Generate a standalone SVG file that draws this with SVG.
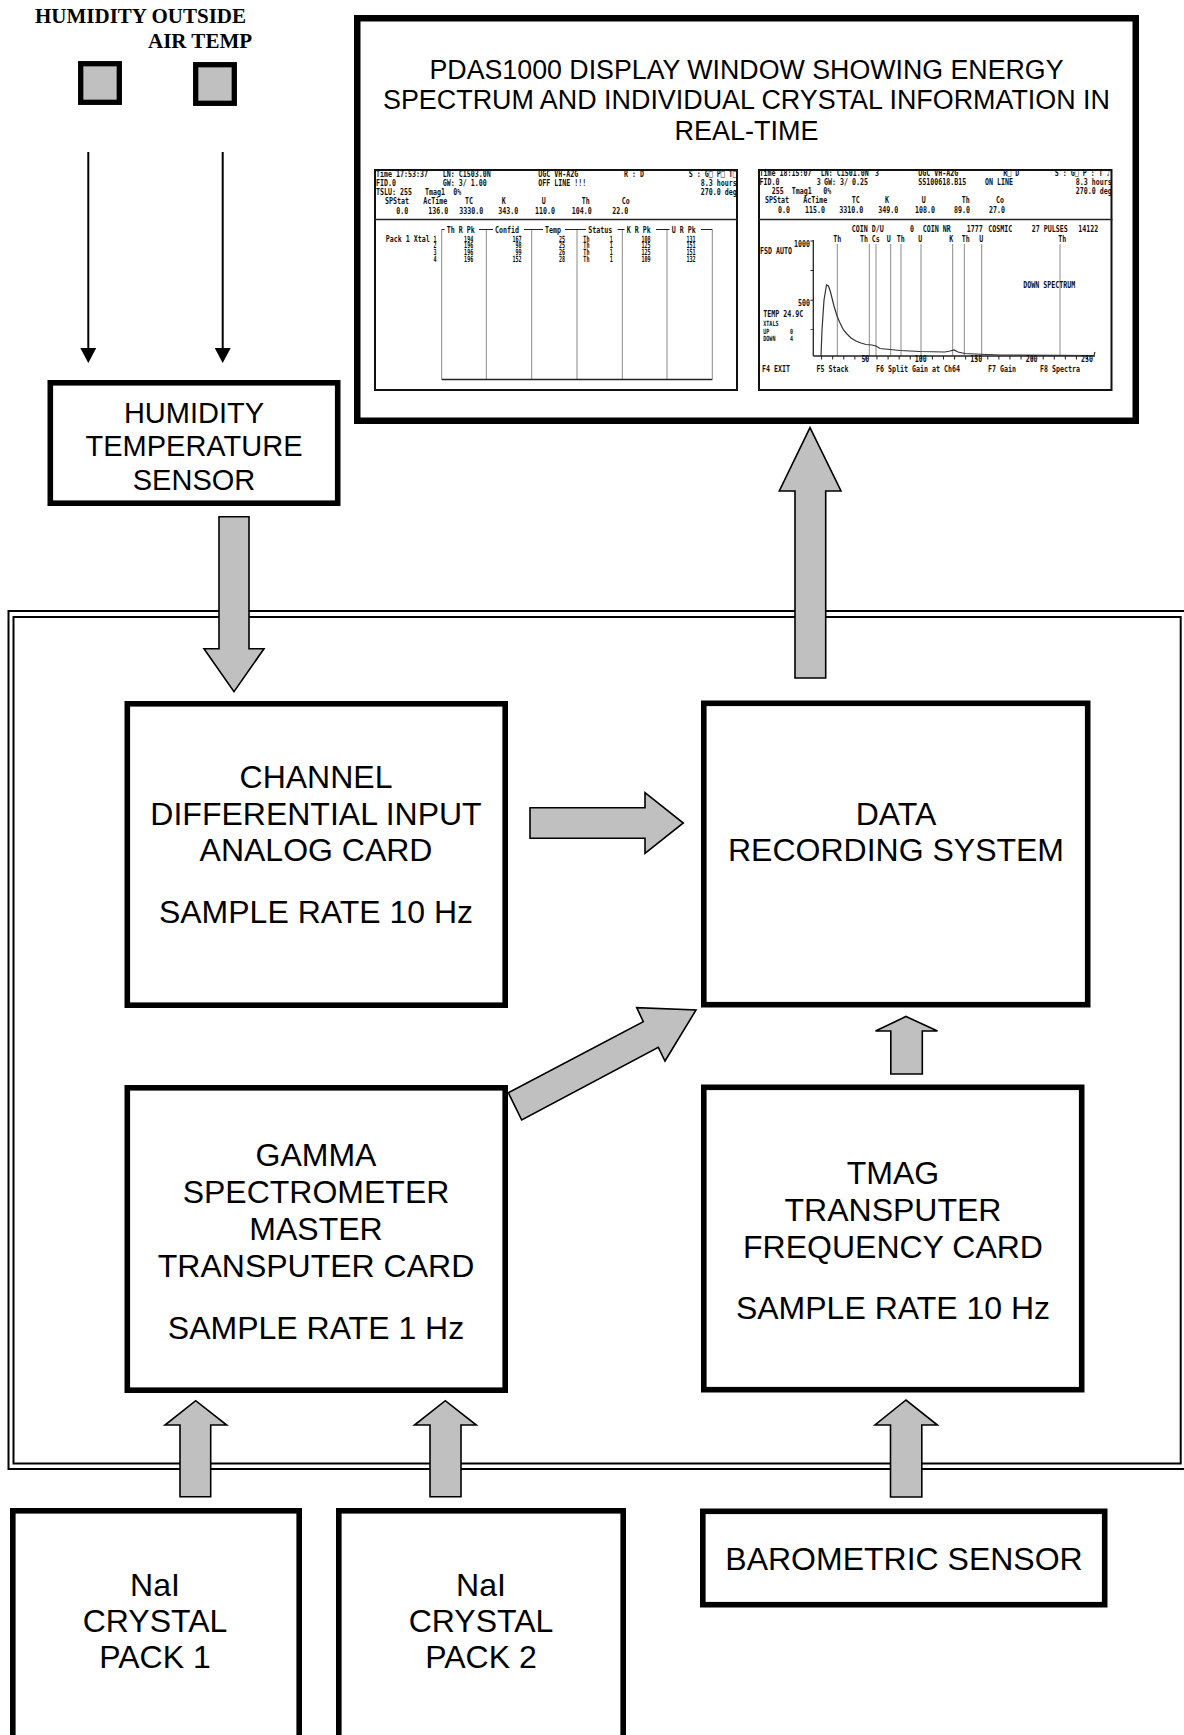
<svg xmlns="http://www.w3.org/2000/svg" width="1184" height="1735" viewBox="0 0 1184 1735">
<defs>
<style>
.box{fill:#fff;stroke:#000;stroke-width:5.6}
.lbl{font-family:"Liberation Sans",Arial,sans-serif;font-size:32px;fill:#000;text-anchor:middle}
.ttl{font-family:"Liberation Sans",Arial,sans-serif;font-size:27px;fill:#000;text-anchor:middle}
.hum{font-family:"Liberation Sans",Arial,sans-serif;font-size:29px;fill:#000;text-anchor:middle}
.ser{font-family:"Liberation Serif","Times New Roman",serif;font-size:21px;font-weight:bold;fill:#000}
.sq{fill:#c0c0c0;stroke:#000;stroke-width:5.3}
.fat{fill:#c0c0c0;stroke:#000;stroke-width:1.6}
.thin{stroke:#000;stroke-width:2;fill:none}
.frame{fill:none;stroke:#000;stroke-width:2}
.scr{fill:#fff;stroke:#111;stroke-width:2}
.m{font-family:"DejaVu Sans Mono","Liberation Mono",monospace;font-weight:bold;font-size:9.5px;fill:#111}
.s{font-size:7.2px}
.d{font-family:"DejaVu Sans Mono","Liberation Mono",monospace;font-weight:bold;font-size:8.5px;fill:#111;text-anchor:end}
.e{text-anchor:end}
.c{text-anchor:middle}
.st{text-anchor:start}
.gl{stroke:#8a8a8a;stroke-width:1;fill:none}
.dk{stroke:#222;fill:none}
</style>
<marker id="ah" markerUnits="userSpaceOnUse" markerWidth="15" markerHeight="16" viewBox="0 0 15 16" refX="2" refY="8" orient="auto">
<path d="M0,0 L15,8 L0,16 Z" fill="#000"/>
</marker>
</defs>
<rect width="1184" height="1735" fill="#fff"/>

<g id="system-frame">
<rect class="frame" x="8.5" y="611" width="1177.5" height="858"/>
<rect class="frame" x="13.5" y="617" width="1167.2" height="846.5"/>
</g>

<g id="outside-sensors">
<text class="ser" x="35" y="23">HUMIDITY OUTSIDE</text>
<text class="ser" x="148" y="48">AIR TEMP</text>
<rect class="sq" x="80.7" y="63.7" width="38.6" height="38.6"/>
<rect class="sq" x="195.7" y="64.7" width="38.6" height="38.6"/>
</g>

<g id="humidity-sensor">
<rect class="box" x="50.3" y="382.8" width="287.4" height="120.4"/>
<text class="hum" x="194" y="423">HUMIDITY</text>
<text class="hum" x="194" y="456">TEMPERATURE</text>
<text class="hum" x="194" y="490">SENSOR</text>
</g>

<g id="display-window">
<rect x="357.25" y="18.25" width="778.5" height="402.5" fill="#fff" stroke="#000" stroke-width="6.5"/>
<text class="ttl" x="746.5" y="78.5" textLength="634" lengthAdjust="spacingAndGlyphs">PDAS1000 DISPLAY WINDOW SHOWING ENERGY</text>
<text class="ttl" x="746.5" y="109" textLength="727" lengthAdjust="spacingAndGlyphs">SPECTRUM AND INDIVIDUAL CRYSTAL INFORMATION IN</text>
<text class="ttl" x="746.5" y="139.5">REAL-TIME</text>

<g id="screen-left">
<rect class="scr" x="375" y="170" width="362" height="220"/>
<line class="dk" x1="374" y1="219.5" x2="738" y2="219.5" stroke-width="1.6"/>
<g class="gl">
<line x1="441.7" y1="229.5" x2="441.7" y2="379.5"/>
<line x1="486.3" y1="229.5" x2="486.3" y2="379.5"/>
<line x1="531.7" y1="229.5" x2="531.7" y2="379.5"/>
<line x1="577" y1="229.5" x2="577" y2="379.5"/>
<line x1="622.3" y1="229.5" x2="622.3" y2="379.5"/>
<line x1="667" y1="229.5" x2="667" y2="379.5"/>
<line x1="712.3" y1="229.5" x2="712.3" y2="379.5"/>
</g>
<line class="dk" x1="441.7" y1="379.5" x2="712.3" y2="379.5" stroke-width="1.6"/>
<path class="dk" stroke-width="1" d="M441.7,229.5H444.5M479,229.5H493M524,229.5H543M565,229.5H586M617.5,229.5H624.5M656,229.5H669.5M701,229.5H712.3"/>
<g class="m" transform="translate(375 0) scale(0.7 1)" xml:space="preserve">
<text x="1.4" y="176.7">Time 17:53:37</text>
<text x="96.7" y="176.7">LN: C1503.0N</text>
<text x="233.3" y="176.7">UGC VH-A2G</text>
<text x="355.7" y="176.7">R : D</text>
<text x="516.7" y="176.7" class="e">S : G□ P□ T□</text>
<text x="1.4" y="186">FID.0</text>
<text x="96.7" y="186">GW: 3/ 1.00</text>
<text x="233.3" y="186">OFF LINE !!!</text>
<text x="516.7" y="186" class="e">8.3 hours</text>
<text x="1.4" y="195.3">TSLU: 255</text>
<text x="71.4" y="195.3">Tmag1</text>
<text x="111.9" y="195.3">0%</text>
<text x="516.7" y="195.3" class="e">270.0 deg</text>
<text x="14.3" y="204.3">SPStat</text>
<text x="69" y="204.3">AcTime</text>
<text x="128.6" y="204.3">TC</text>
<text x="181" y="204.3">K</text>
<text x="238.1" y="204.3">U</text>
<text x="295.3" y="204.3">Th</text>
<text x="352.4" y="204.3">Co</text>
<text x="47.6" y="213.7" class="e">0.0</text>
<text x="104.7" y="213.7" class="e">136.0</text>
<text x="154.7" y="213.7" class="e">3330.0</text>
<text x="204.7" y="213.7" class="e">343.0</text>
<text x="257.1" y="213.7" class="e">110.0</text>
<text x="309.6" y="213.7" class="e">104.0</text>
<text x="361.9" y="213.7" class="e">22.0</text>
<text x="102.4" y="233.5">Th R Pk</text>
<text x="171.4" y="233.5">Confid</text>
<text x="242.9" y="233.5">Temp</text>
<text x="304.7" y="233.5">Status</text>
<text x="359.6" y="233.5">K R Pk</text>
<text x="423.9" y="233.5">U R Pk</text>
<text x="15.3" y="241.7">Pack 1 Xtal</text>
</g>
<g class="d" transform="translate(375 0) scale(0.6 1)">
<text x="102.8" y="241.7">1</text><text x="102.8" y="248.4">2</text><text x="102.8" y="255.1">3</text><text x="102.8" y="261.8">4</text>
<text x="163.8" y="241.7">194</text><text x="163.8" y="248.4">196</text><text x="163.8" y="255.1">196</text><text x="163.8" y="261.8">196</text>
<text x="244.5" y="241.7">167</text><text x="244.5" y="248.4">98</text><text x="244.5" y="255.1">99</text><text x="244.5" y="261.8">152</text>
<text x="316.7" y="241.7">25</text><text x="316.7" y="248.4">25</text><text x="316.7" y="255.1">26</text><text x="316.7" y="261.8">28</text>
<text x="347.2" y="241.7" class="st">Th</text><text x="347.2" y="248.4" class="st">Th</text><text x="347.2" y="255.1" class="st">Th</text><text x="347.2" y="261.8" class="st">Th</text>
<text x="396.2" y="241.7">1</text><text x="396.2" y="248.4">1</text><text x="396.2" y="255.1">1</text><text x="396.2" y="261.8">1</text>
<text x="459.5" y="241.7">108</text><text x="459.5" y="248.4">125</text><text x="459.5" y="255.1">125</text><text x="459.5" y="261.8">109</text>
<text x="534.5" y="241.7">131</text><text x="534.5" y="248.4">151</text><text x="534.5" y="255.1">151</text><text x="534.5" y="261.8">132</text>
</g>
</g>

<g id="screen-right">
<rect class="scr" x="759" y="170" width="352.5" height="220"/>
<line class="dk" x1="758" y1="219.5" x2="1112.5" y2="219.5" stroke-width="1.6"/>
<g class="gl">
<line x1="837.3" y1="244" x2="837.3" y2="356"/>
<line x1="869.3" y1="244" x2="869.3" y2="356"/>
<line x1="876" y1="244" x2="876" y2="356"/>
<line x1="890.7" y1="244" x2="890.7" y2="356"/>
<line x1="901" y1="244" x2="901" y2="356"/>
<line x1="921" y1="244" x2="921" y2="356"/>
<line x1="952.7" y1="244" x2="952.7" y2="356"/>
<line x1="964.3" y1="244" x2="964.3" y2="356"/>
<line x1="981.7" y1="244" x2="981.7" y2="356"/>
<line x1="1060" y1="244" x2="1060" y2="356"/>
</g>
<line class="dk" x1="813.3" y1="240" x2="813.3" y2="356" stroke-width="1.3"/>
<line class="dk" x1="813.3" y1="356" x2="1095" y2="356" stroke-width="1.3"/>
<line class="dk" x1="821.1" y1="357.8" x2="1096" y2="357.8" stroke-width="3.5" stroke-dasharray="1 10.08"/>
<line class="dk" x1="811.9" y1="240.5" x2="811.9" y2="330" stroke-width="2.8" stroke-dasharray="1 28.6"/>
<polyline fill="none" stroke="#333" stroke-width="1.2" points="821,356 822,330 824,300 826.5,285 828.5,286 830.5,292 832,298 834,306 837,316 840,323 843.5,330 847,334 851,338 856,341 861,343 866,344.5 872,345 876,346 880,348.5 890,349.5 900,350.5 920,351.5 945,352 950,351 954,350 958,352 965,353.5 975,354 1000,355 1060,355.3 1094,355.5 1095,352"/>
<g class="m" transform="translate(758 0) scale(0.7 1)" xml:space="preserve">
<text x="2.1" y="176">Time 18:15:07</text>
<text x="89.6" y="176">LN: C1501.0N</text>
<text x="167.1" y="176">3</text>
<text x="229" y="176">UGC VH-A2G</text>
<text x="350.4" y="176">R□ D</text>
<text x="503.9" y="176" class="e">S : G□ P : T ♪</text>
<text x="2.1" y="185.3">FID.0</text>
<text x="83.9" y="185.3">3</text>
<text x="94.3" y="185.3">GW: 3/ 0.25</text>
<text x="229" y="185.3">SS100618.B15</text>
<text x="324.3" y="185.3">ON LINE</text>
<text x="505.3" y="185.3" class="e">8.3 hours</text>
<text x="19.6" y="194.3">255</text>
<text x="48.1" y="194.3">Tmag1</text>
<text x="93.3" y="194.3">0%</text>
<text x="505.3" y="194.3" class="e">270.0 deg</text>
<text x="10" y="203.3">SPStat</text>
<text x="64.7" y="203.3">AcTime</text>
<text x="133.9" y="203.3">TC</text>
<text x="181.4" y="203.3">K</text>
<text x="233.9" y="203.3">U</text>
<text x="291" y="203.3">Th</text>
<text x="340" y="203.3">Co</text>
<text x="45.7" y="213.3" class="e">0.0</text>
<text x="95.7" y="213.3" class="e">115.0</text>
<text x="150.4" y="213.3" class="e">3310.0</text>
<text x="200.4" y="213.3" class="e">349.0</text>
<text x="252.9" y="213.3" class="e">108.0</text>
<text x="302.9" y="213.3" class="e">89.0</text>
<text x="352.9" y="213.3" class="e">27.0</text>
<text x="133.9" y="232.3">COIN D/U</text>
<text x="217.1" y="232.3">0</text>
<text x="235.3" y="232.3">COIN NR</text>
<text x="298.1" y="232.3">1777</text>
<text x="329" y="232.3">COSMIC</text>
<text x="391" y="232.3">27 PULSES</text>
<text x="457.6" y="232.3">14122</text>
<text x="107.6" y="241.7">Th</text>
<text x="145.7" y="241.7">Th</text>
<text x="162.4" y="241.7">Cs</text>
<text x="183.9" y="241.7">U</text>
<text x="198.1" y="241.7">Th</text>
<text x="229" y="241.7">U</text>
<text x="273.3" y="241.7">K</text>
<text x="291" y="241.7">Th</text>
<text x="316.1" y="241.7">U</text>
<text x="429" y="241.7">Th</text>
<text x="74.3" y="247.3" class="e">1000</text>
<text x="2.9" y="254.3">FSD  AUTO</text>
<text x="379" y="288.3">DOWN SPECTRUM</text>
<text x="74.3" y="306" class="e">500</text>
<text x="7.6" y="316.7">TEMP 24.9C</text>
<text x="7.6" y="326" class="s">XTALS</text>
<text x="7.6" y="333.6" class="s">UP</text>
<text x="45.7" y="333.6" class="s">0</text>
<text x="7.6" y="341.2" class="s">DOWN</text>
<text x="45.7" y="341.2" class="s">4</text>
<text x="153.4" y="362" class="c">50</text>
<text x="232.6" y="362" class="c">100</text>
<text x="311.7" y="362" class="c">150</text>
<text x="390.9" y="362" class="c">200</text>
<text x="470" y="362" class="c">250</text>
<text x="5.7" y="371.7">F4  EXIT</text>
<text x="83.7" y="371.7">F5  Stack</text>
<text x="168.6" y="371.7">F6 Split Gain at Ch64</text>
<text x="328.6" y="371.7">F7  Gain</text>
<text x="402.9" y="371.7">F8  Spectra</text>
</g>
</g>
</g>

<g id="channel-card">
<rect class="box" x="127.3" y="703.8" width="377.9" height="301.4"/>
<text class="lbl" x="316" y="788">CHANNEL</text>
<text class="lbl" x="316" y="824.6">DIFFERENTIAL INPUT</text>
<text class="lbl" x="316" y="861.3">ANALOG CARD</text>
<text class="lbl" x="316" y="922.6">SAMPLE RATE 10 Hz</text>
</g>

<g id="data-recording-system">
<rect class="box" x="703.8" y="703.3" width="383.9" height="301.4"/>
<text class="lbl" x="896" y="824.6">DATA</text>
<text class="lbl" x="896" y="861.2">RECORDING SYSTEM</text>
</g>

<g id="gamma-card">
<rect class="box" x="127.3" y="1087.8" width="377.9" height="302.4"/>
<text class="lbl" x="316" y="1165.7">GAMMA</text>
<text class="lbl" x="316" y="1202.8">SPECTROMETER</text>
<text class="lbl" x="316" y="1240">MASTER</text>
<text class="lbl" x="316" y="1277">TRANSPUTER CARD</text>
<text class="lbl" x="316" y="1339">SAMPLE RATE 1 Hz</text>
</g>

<g id="tmag-card">
<rect class="box" x="703.8" y="1087.3" width="377.9" height="302.4"/>
<text class="lbl" x="893" y="1184">TMAG</text>
<text class="lbl" x="893" y="1220.5">TRANSPUTER</text>
<text class="lbl" x="893" y="1257.6">FREQUENCY CARD</text>
<text class="lbl" x="893" y="1319.3">SAMPLE RATE 10 Hz</text>
</g>

<g id="nai-pack-1">
<rect class="box" x="12.8" y="1510.8" width="286.4" height="260"/>
<text class="lbl" x="155" y="1596">NaI</text>
<text class="lbl" x="155" y="1632">CRYSTAL</text>
<text class="lbl" x="155" y="1668.4">PACK 1</text>
</g>

<g id="nai-pack-2">
<rect class="box" x="338.8" y="1510.8" width="284.4" height="260"/>
<text class="lbl" x="481" y="1596">NaI</text>
<text class="lbl" x="481" y="1632">CRYSTAL</text>
<text class="lbl" x="481" y="1668.4">PACK 2</text>
</g>

<g id="barometric-sensor">
<rect class="box" x="702.8" y="1511.3" width="401.9" height="93.4"/>
<text class="lbl" x="904" y="1570">BAROMETRIC SENSOR</text>
</g>

<g id="connectors">
<line class="thin" x1="88.3" y1="152" x2="88.3" y2="350" marker-end="url(#ah)"/>
<line class="thin" x1="222.7" y1="152" x2="222.7" y2="350" marker-end="url(#ah)"/>
<polygon class="fat" points="219,516.7 249,516.7 249,648.7 264,648.7 234,691.6 204,648.7 219,648.7"/>
<polygon class="fat" points="530,807.7 645,807.7 645,792.7 683.3,823 645,853.3 645,838.3 530,838.3"/>
<polygon class="fat" points="508.3,1092.7 643.3,1021.7 636.7,1007.7 696,1010 665,1061 658.3,1047.3 521.7,1120"/>
<polygon class="fat" points="890.8,1074 890.8,1031 875.5,1031 906,1016.5 937.5,1031 922.3,1031 922.3,1074"/>
<polygon class="fat" points="795,678 795,491 779.3,491 810,427.7 841,491 825.7,491 825.7,678"/>
<polygon class="fat" points="180,1496.7 180,1425 165,1425 195.7,1400.7 226.7,1425 210.7,1425 210.7,1496.7"/>
<polygon class="fat" points="430,1496.7 430,1425 414.5,1425 445.3,1400.7 476.3,1425 461,1425 461,1496.7"/>
<polygon class="fat" points="890.5,1497 890.5,1425 875,1425 906,1400 937.4,1425 921.8,1425 921.8,1497"/>
</g>
</svg>
